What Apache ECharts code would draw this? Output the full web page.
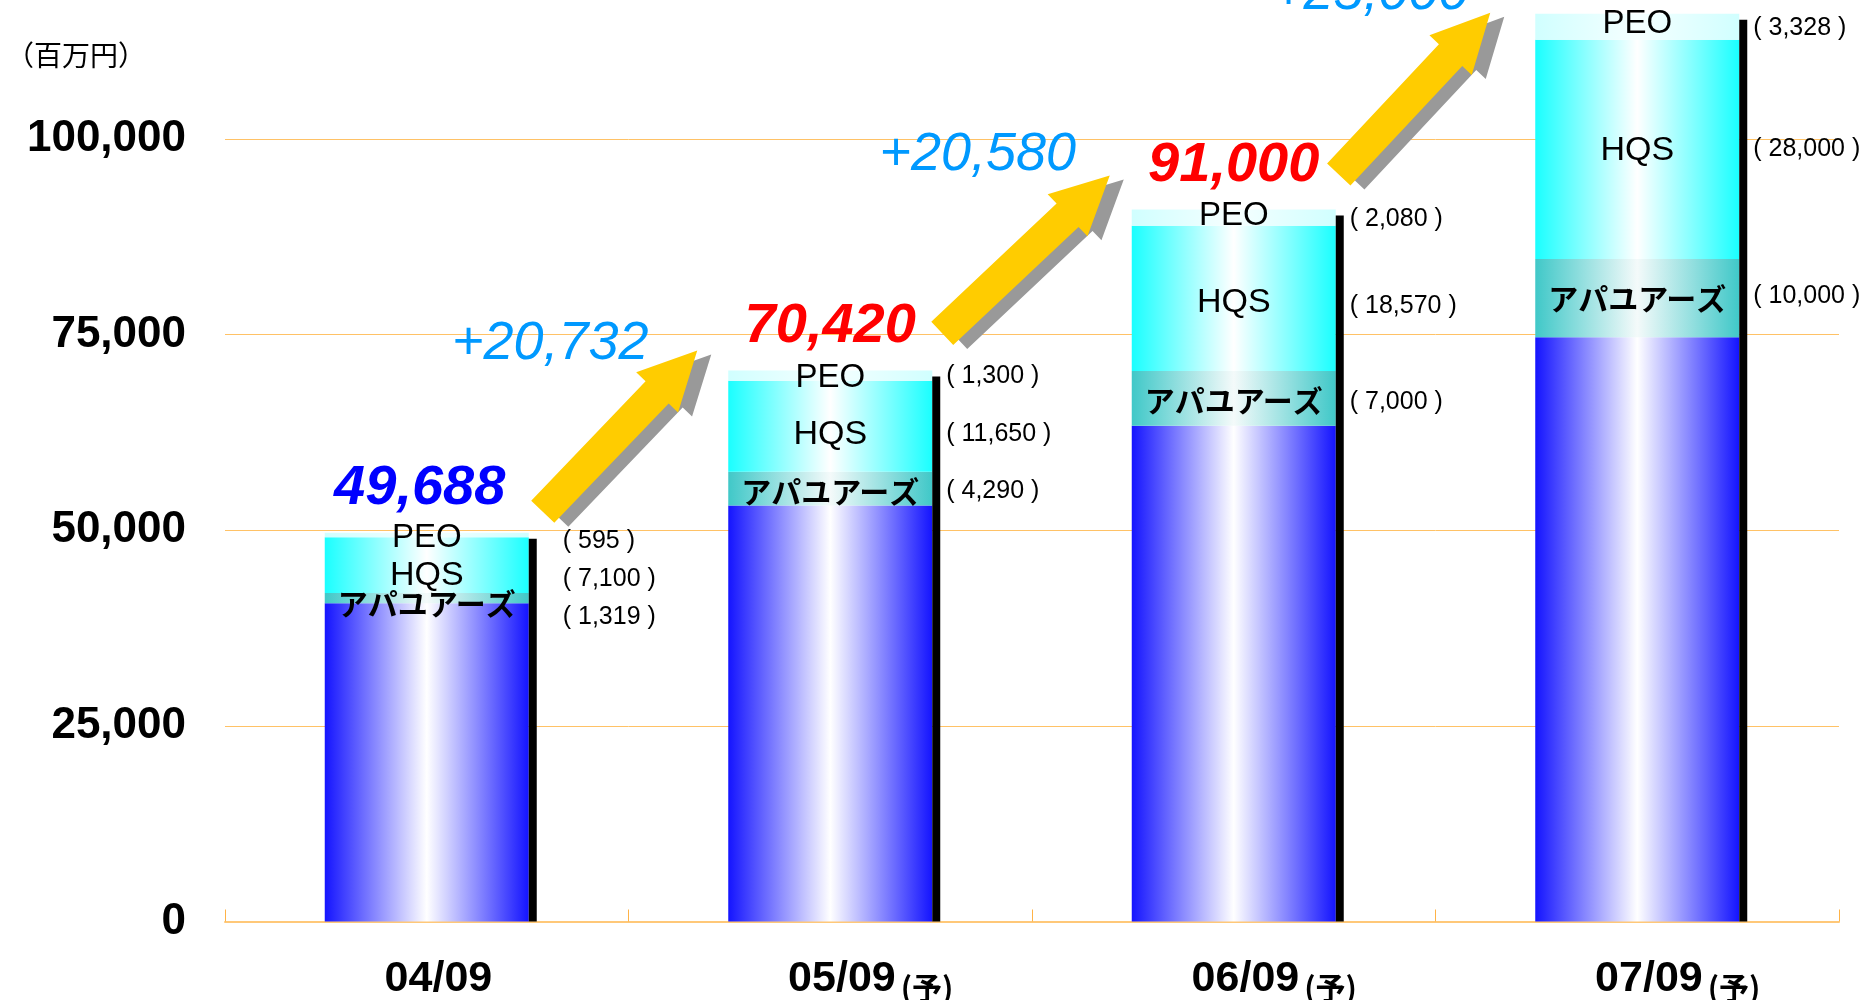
<!DOCTYPE html>
<html>
<head>
<meta charset="utf-8">
<script src="https://cdn.jsdelivr.net/npm/echarts@6/dist/echarts.min.js"></script>
<style>
  html, body { margin: 0; padding: 0; background: #fff; }
  #main { width: 1860px; height: 1000px; }
</style>
</head>
<body>
<div id="main"></div>
<script>
// 売上高の推移（百万円）
const categories = ['04/09', '05/09', '06/09', '07/09'];
const forecast = [false, true, true, true];
const baseSales = [40674, 53180, 63350, 74672];
const apaSales = [1319, 4290, 7000, 10000];
const hqsSales = [7100, 11650, 18570, 28000];
const peoSales = [595, 1300, 2080, 3328];
const segNames = ['アパユアーズ', 'HQS', 'PEO'];
const yMax = 125000;
const yStep = 25000;

const totals = categories.map((c, i) => baseSales[i] + apaSales[i] + hqsSales[i] + peoSales[i]);
const segs = [apaSales, hqsSales, peoSales];
const fmt = v => v.toLocaleString('en-US');

const chart = echarts.init(document.getElementById('main'));

function hGrad(edge, mid) {
  return new echarts.graphic.LinearGradient(0, 0, 1, 0, [
    { offset: 0, color: edge },
    { offset: 0.5, color: mid },
    { offset: 1, color: edge }
  ]);
}

// label nudges so texts sit where the original slide put them
const insideNudge = [
  [[0, 6], [0, 3], [0, 2], [0, 1]],     // アパユアーズ
  [[0, 10], [0, 8], [0, 4], [0, 1]],    // HQS
  [[0, 3], [0, 2], [0, -2], [0, -3]]    // PEO
];
const sideNudge = [
  [19, 3, 4, -2],
  [14, 8, 8, 0],
  [6, 1, 2, 1]
];

function segSeries(name, data, color, k, labelFont) {
  return {
    name: name,
    type: 'bar',
    stack: 'sales',
    barWidth: 204,
    data: data.map((v, i) => ({ value: v, label: { offset: insideNudge[k][i] } })),
    itemStyle: { color: color },
    label: Object.assign({ show: true, position: 'inside', color: '#000', formatter: name }, labelFont)
  };
}

const option = {
  animation: false,
  grid: { left: 225, right: 21, top: -56.6, bottom: 78.5, containLabel: false, outerBoundsMode: 'none' },
  graphic: [{
    type: 'text', x: 6, y: 55,
    style: { text: '（百万円）', font: '28px "Noto Sans CJK JP"', fill: '#000', verticalAlign: 'middle' }
  }],
  xAxis: {
    type: 'category',
    data: categories,
    axisLine: { lineStyle: { color: '#ffc878', width: 2 } },
    axisTick: { show: true, inside: true, length: 12, lineStyle: { color: '#ffb347', width: 1 } },
    axisLabel: {
      margin: 34,
      formatter: (v, i) => '{s| }{a|' + v + '}' + (forecast[i] ? '{b|(予)}' : '{h|(予)}'),
      rich: {
        s: { width: 81 },
        a: { fontSize: 43, fontWeight: 'bold', fontFamily: 'Liberation Sans', color: '#000' },
        b: { fontSize: 30, fontWeight: 'bold', fontFamily: 'Noto Sans CJK JP', color: '#000', padding: [17, 0, 0, 5] },
        h: { fontSize: 30, fontWeight: 'bold', fontFamily: 'Noto Sans CJK JP', color: 'transparent', padding: [17, 0, 0, 5] }
      }
    }
  },
  yAxis: {
    type: 'value',
    min: 0,
    max: yMax,
    interval: yStep,
    axisLine: { show: false },
    axisTick: { show: false },
    splitLine: { lineStyle: { color: '#ffc266', width: 1 } },
    axisLabel: {
      margin: 39,
      padding: [10, 0, 0, 0],
      formatter: v => fmt(v),
      fontSize: 44,
      fontWeight: 'bold',
      fontFamily: 'Liberation Sans',
      color: '#000'
    }
  },
  series: [
    {
      name: '本体',
      type: 'bar',
      stack: 'sales',
      barWidth: 204,
      data: baseSales,
      itemStyle: { color: hGrad('#1414ff', '#ffffff') }
    },
    segSeries(segNames[0], apaSales, hGrad('#40c8c8', '#f4fafa'), 0,
      { fontSize: 30, fontWeight: 'bold', fontFamily: 'Noto Sans CJK JP' }),
    segSeries(segNames[1], hqsSales, hGrad('#1affff', '#ffffff'), 1,
      { fontSize: 34, fontFamily: 'Liberation Sans' }),
    segSeries(segNames[2], peoSales, hGrad('#d0ffff', '#f6ffff'), 2,
      { fontSize: 33, fontFamily: 'Liberation Sans' }),
    {
      name: 'side',
      type: 'custom',
      z: 5,
      data: categories.map((c, i) => [i, totals[i]]),
      renderItem: function (params, api) {
        const i = api.value(0);
        const top = api.coord([i, api.value(1)]);
        const zero = api.coord([i, 0]);
        const half = 102;
        const children = [{
          type: 'rect',
          shape: { x: top[0] + half, y: top[1] + 6, width: 8, height: zero[1] - top[1] - 6 },
          style: { fill: '#000' }
        }];
        let cum = baseSales[i];
        segs.forEach((arr, k) => {
          const mid = api.coord([i, cum + arr[i] / 2]);
          cum += arr[i];
          children.push({
            type: 'text',
            x: top[0] + (i === 0 ? 136 : 116),
            y: mid[1] + sideNudge[k][i],
            style: {
              text: '( ' + fmt(arr[i]) + ' )',
              font: '25px "Liberation Sans"',
              fill: '#000',
              align: 'left',
              verticalAlign: 'middle'
            }
          });
        });
        children.push({
          type: 'text',
          x: top[0] + (i === 0 ? -7 : 0),
          y: top[1] - 44,
          style: {
            text: fmt(totals[i]),
            font: 'italic bold 56px "Liberation Sans"',
            fill: i === 0 ? '#0000ff' : '#ff0000',
            align: 'center',
            verticalAlign: 'middle'
          }
        });
        return { type: 'group', children: children };
      }
    }
  ]
};

chart.setOption(option);

// growth arrows between the totals
const arrowNudge = [
  { tail: [116, -21], tip: [-133, -20], text: [-147, -6] },
  { tail: [112, -37], tip: [-124, -34], text: [-132, -20] },
  { tail: [105, -35], tip: [-147, -1], text: [-120, -19] }
];

function arrowPoints(a, b, shaftHalf, headHalf, headLen) {
  const dx = b[0] - a[0], dy = b[1] - a[1];
  const L = Math.hypot(dx, dy);
  const ux = dx / L, uy = dy / L, nx = -uy, ny = ux;
  const nk = [a[0] + ux * (L - headLen), a[1] + uy * (L - headLen)];
  return [
    [a[0] + nx * shaftHalf, a[1] + ny * shaftHalf],
    [nk[0] + nx * shaftHalf, nk[1] + ny * shaftHalf],
    [nk[0] + nx * headHalf, nk[1] + ny * headHalf],
    b,
    [nk[0] - nx * headHalf, nk[1] - ny * headHalf],
    [nk[0] - nx * shaftHalf, nk[1] - ny * shaftHalf],
    [a[0] - nx * shaftHalf, a[1] - ny * shaftHalf]
  ];
}

const extra = [];
arrowNudge.forEach((n, i) => {
  const p0 = chart.convertToPixel({ gridIndex: 0 }, [i, totals[i]]);
  const p1 = chart.convertToPixel({ gridIndex: 0 }, [i + 1, totals[i + 1]]);
  const tail = [p0[0] + n.tail[0], p0[1] + n.tail[1]];
  const tip = [p1[0] + n.tip[0], p1[1] + n.tip[1]];
  const pts = arrowPoints(tail, tip, 16, 29, 58);
  extra.push({
    type: 'polygon', z: 10,
    shape: { points: pts.map(p => [p[0] + 14, p[1] + 4]) },
    style: { fill: '#999999' }
  });
  extra.push({
    type: 'polygon', z: 11,
    shape: { points: pts },
    style: { fill: '#ffcc00' }
  });
  extra.push({
    type: 'text', z: 12,
    x: tip[0] + n.text[0], y: tip[1] + n.text[1],
    style: {
      text: '+' + fmt(totals[i + 1] - totals[i]),
      font: 'italic 54px "Liberation Sans"',
      fill: '#0099ff',
      align: 'center',
      verticalAlign: 'middle',
      textShadowColor: '#b8b8b8',
      textShadowOffsetX: 3,
      textShadowOffsetY: 3
    }
  });
});

chart.setOption({ graphic: option.graphic.concat(extra) });
</script>
</body>
</html>
